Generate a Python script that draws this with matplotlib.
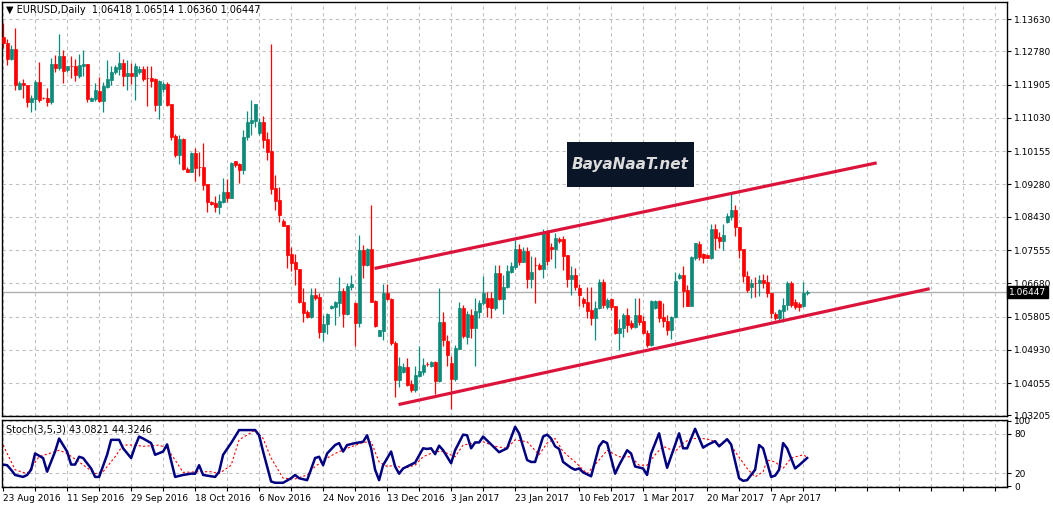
import matplotlib
matplotlib.use("Agg")
import matplotlib.pyplot as plt
from matplotlib.patches import Rectangle

opens = [1.1316,1.1300,1.1258,1.1284,1.1179,1.1195,1.1189,1.1145,1.1153,1.1197,1.1155,1.1155,1.1145,1.1245,1.1234,1.1266,1.1229,1.1239,1.1239,1.1213,
1.1239,1.1245,1.1147,1.1153,1.1174,1.1147,1.1184,1.1203,1.1224,1.1232,1.1247,1.1213,1.1221,1.1213,1.1224,1.1232,1.1208,1.1208,1.1205,1.1137,
1.1179,1.1192,1.1139,1.1055,1.1005,1.1047,1.0969,1.0961,1.1011,1.0974,1.0974,1.0929,1.0882,1.0879,1.0869,1.0882,1.0908,1.0892,1.0990,1.0982,
1.0966,1.1053,1.1090,1.1095,1.1063,1.1092,1.1047,1.1016,1.0919,1.0887,1.0832,1.0821,1.0745,1.0724,1.0706,1.0619,1.0592,1.0579,1.0637,1.0632,
1.0540,1.0561,1.0603,1.0606,1.0616,1.0648,1.0587,1.0658,1.0616,1.0564,1.0756,1.0716,1.0758,1.0621,1.0529,1.0543,1.0642,1.0627,1.0511,1.0414,
1.0435,1.0448,1.0403,1.0387,1.0424,1.0435,1.0456,1.0450,1.0461,1.0411,1.0566,1.0516,1.0458,1.0416,1.0495,1.0603,1.0527,1.0585,1.0550,1.0592,
1.0616,1.0629,1.0629,1.0603,1.0695,1.0627,1.0658,1.0698,1.0711,1.0758,1.0724,1.0753,1.0679,1.0716,1.0716,1.0706,1.0803,1.0763,1.0758,1.0784,
1.0784,1.0742,1.0679,1.0690,1.0656,1.0627,1.0619,1.0598,1.0577,1.0603,1.0671,1.0606,1.0627,1.0608,1.0537,1.0550,1.0585,1.0563,1.0553,1.0585,
1.0569,1.0537,1.0506,1.0603,1.0621,1.0579,1.0569,1.0545,1.0579,1.0682,1.0690,1.0650,1.0608,1.0734,1.0771,1.0745,1.0742,1.0734,1.0811,1.0790,
1.0779,1.0829,1.0842,1.0861,1.0816,1.0758,1.0687,1.0658,1.0669,1.0669,1.0677,1.0671,1.0642,1.0587,1.0577,1.0595,1.0611,1.0669,1.0619,1.0614,
1.0608,1.06418]
closes = [1.1300,1.1258,1.1284,1.1189,1.1195,1.1189,1.1145,1.1155,1.1197,1.1150,1.1155,1.1145,1.1245,1.1234,1.1266,1.1226,1.1239,1.1239,1.1216,1.1242,
1.1245,1.1153,1.1155,1.1176,1.1147,1.1187,1.1205,1.1224,1.1237,1.1247,1.1213,1.1221,1.1213,1.1239,1.1232,1.1205,1.1208,1.1200,1.1137,1.1200,
1.1192,1.1137,1.1053,1.1005,1.1047,1.0969,1.0961,1.1011,1.0971,1.0974,1.0926,1.0882,1.0876,1.0869,1.0884,1.0908,1.0892,1.0984,1.0979,1.0966,
1.1053,1.1092,1.1097,1.1139,1.1092,1.1045,1.1013,1.0916,1.0884,1.0848,1.0819,1.0742,1.0721,1.0706,1.0619,1.0590,1.0579,1.0637,1.0629,1.0540,
1.0561,1.0587,1.0608,1.0619,1.0648,1.0587,1.0661,1.0666,1.0564,1.0756,1.0716,1.0758,1.0619,1.0556,1.0545,1.0642,1.0627,1.0511,1.0414,1.0450,
1.0448,1.0400,1.0387,1.0427,1.0437,1.0453,1.0456,1.0461,1.0411,1.0566,1.0519,1.0479,1.0416,1.0498,1.0603,1.0529,1.0587,1.0550,1.0595,1.0616,
1.0642,1.0606,1.0603,1.0695,1.0627,1.0658,1.0700,1.0713,1.0758,1.0724,1.0753,1.0679,1.0698,1.0716,1.0706,1.0800,1.0727,1.0758,1.0787,1.0779,
1.0740,1.0679,1.0690,1.0658,1.0637,1.0616,1.0595,1.0577,1.0603,1.0671,1.0611,1.0624,1.0606,1.0537,1.0550,1.0585,1.0558,1.0553,1.0585,1.0566,
1.0537,1.0506,1.0621,1.0621,1.0577,1.0569,1.0545,1.0579,1.0674,1.0690,1.0648,1.0608,1.0737,1.0774,1.0737,1.0734,1.0734,1.0811,1.0787,1.0779,
1.0795,1.0845,1.0861,1.0816,1.0756,1.0687,1.0650,1.0669,1.0669,1.0677,1.0669,1.0642,1.0590,1.0577,1.0598,1.0611,1.0669,1.0611,1.0606,1.0606,
1.0642,1.06447]
highs = [1.1353,1.1310,1.1295,1.1339,1.1200,1.1205,1.1189,1.1163,1.1203,1.1250,1.1158,1.1182,1.1260,1.1268,1.1324,1.1281,1.1239,1.1266,1.1258,1.1271,
1.1281,1.1245,1.1158,1.1195,1.1210,1.1197,1.1255,1.1239,1.1242,1.1276,1.1258,1.1255,1.1247,1.1247,1.1239,1.1239,1.1239,1.1239,1.1208,1.1203,
1.1197,1.1197,1.1139,1.1061,1.1058,1.1050,1.0974,1.1013,1.1024,1.1013,1.1037,1.0929,1.0884,1.0898,1.0903,1.0945,1.0942,1.0987,1.0990,1.0984,
1.1071,1.1121,1.1150,1.1139,1.1103,1.1108,1.1066,1.1297,1.0953,1.0921,1.0837,1.0821,1.0763,1.0745,1.0706,1.0656,1.0598,1.0656,1.0656,1.0642,
1.0585,1.0590,1.0611,1.0621,1.0685,1.0656,1.0669,1.0690,1.0619,1.0795,1.0769,1.0761,1.0874,1.0624,1.0545,1.0666,1.0666,1.0629,1.0516,1.0474,
1.0458,1.0471,1.0413,1.0450,1.0503,1.0471,1.0461,1.0463,1.0463,1.0656,1.0592,1.0532,1.0477,1.0506,1.0619,1.0611,1.0595,1.0600,1.0629,1.0624,
1.0687,1.0645,1.0645,1.0716,1.0716,1.0690,1.0716,1.0724,1.0782,1.0771,1.0763,1.0763,1.0740,1.0737,1.0721,1.0811,1.0808,1.0774,1.0800,1.0790,
1.0792,1.0742,1.0713,1.0708,1.0666,1.0632,1.0658,1.0658,1.0621,1.0679,1.0679,1.0629,1.0629,1.0608,1.0574,1.0590,1.0603,1.0571,1.0629,1.0629,
1.0582,1.0545,1.0624,1.0624,1.0624,1.0616,1.0585,1.0582,1.0698,1.0695,1.0713,1.0663,1.0740,1.0774,1.0779,1.0748,1.0745,1.0824,1.0824,1.0803,
1.0824,1.0853,1.0905,1.0874,1.0816,1.0758,1.0700,1.0679,1.0685,1.0690,1.0692,1.0690,1.0642,1.0592,1.0600,1.0629,1.0674,1.0674,1.0627,1.0619,
1.0671,1.06514]
lows = [1.1287,1.1242,1.1255,1.1176,1.1176,1.1155,1.1132,1.1118,1.1124,1.1145,1.1153,1.1134,1.1139,1.1224,1.1229,1.1195,1.1224,1.1208,1.1200,1.1208,
1.1213,1.1145,1.1147,1.1147,1.1145,1.1118,1.1182,1.1189,1.1218,1.1216,1.1187,1.1176,1.1192,1.1150,1.1218,1.1200,1.1134,1.1184,1.1121,1.1100,
1.1171,1.1134,1.1045,1.1000,1.0982,1.0966,1.0961,1.0961,1.0937,1.0950,1.0913,1.0855,1.0874,1.0855,1.0850,1.0879,1.0882,1.0892,1.0974,1.0932,
1.0955,1.1045,1.1058,1.1079,1.1058,1.1024,1.0992,1.0903,1.0861,1.0829,1.0819,1.0708,1.0700,1.0663,1.0616,1.0566,1.0577,1.0577,1.0624,1.0524,
1.0516,1.0535,1.0600,1.0558,1.0582,1.0553,1.0585,1.0650,1.0503,1.0553,1.0682,1.0713,1.0619,1.0553,1.0529,1.0519,1.0624,1.0506,1.0369,1.0395,
1.0432,1.0398,1.0382,1.0382,1.0421,1.0427,1.0450,1.0448,1.0377,1.0408,1.0503,1.0450,1.0337,1.0411,1.0495,1.0524,1.0508,1.0524,1.0450,1.0577,
1.0611,1.0579,1.0577,1.0598,1.0624,1.0587,1.0656,1.0695,1.0706,1.0716,1.0724,1.0656,1.0656,1.0616,1.0703,1.0682,1.0716,1.0732,1.0708,1.0774,
1.0703,1.0658,1.0637,1.0650,1.0608,1.0606,1.0577,1.0558,1.0519,1.0600,1.0603,1.0600,1.0598,1.0535,1.0492,1.0527,1.0540,1.0548,1.0550,1.0558,
1.0535,1.0500,1.0503,1.0600,1.0566,1.0553,1.0532,1.0521,1.0577,1.0679,1.0606,1.0608,1.0608,1.0729,1.0729,1.0721,1.0734,1.0732,1.0756,1.0761,
1.0756,1.0826,1.0834,1.0792,1.0734,1.0671,1.0645,1.0629,1.0632,1.0635,1.0656,1.0632,1.0577,1.0571,1.0569,1.0566,1.0598,1.0606,1.0600,1.0595,
1.0606,1.06360]

k_idx = [0,1,2,3,5,6,7,8,10,11,13,14,16,17,18,19,20,22,23,24,26,27,29,30,32,33,34,35,37,38,40,41,43,45,47,48,49,50,53,54,55,57,59,61,63,64,65,67,68,70,
72,73,74,76,78,79,80,81,83,84,85,86,88,89,90,91,92,93,94,95,97,98,99,100,102,103,105,106,107,108,109,110,112,113,115,116,117,118,119,120,122,124,126,128,129,
131,132,133,135,136,137,138,139,140,142,143,144,145,147,149,150,151,153,154,156,157,158,160,161,162,164,165,166,169,170,171,173,175,176,178,179,181,182,184,185,186,188,189,190,192,193,194,195,196,198,199,201]
k_val = [33,32,25,17,14,17,25,50,43,22,53,73,53,33,33,45,43,27,14,14,48,71,71,58,43,61,76,73,66,48,53,64,14,17,19,19,32,17,14,22,48,66,86,86,86,78,53,7,5,5,
12,17,12,9,43,45,32,50,63,66,53,63,66,67,68,78,58,25,9,32,53,30,19,27,33,36,58,57,58,49,62,55,35,55,79,78,58,67,67,76,64,52,58,91,81,
40,37,37,76,79,73,61,57,37,28,25,27,21,15,61,69,66,19,32,55,50,30,27,17,50,81,53,28,81,58,58,88,59,63,69,61,72,64,12,8,9,25,63,58,14,16,25,66,58,27,32,43.08]
d_idx = [0,3,6,9,14,16,19,23,25,28,30,33,35,39,41,43,45,49,52,54,57,59,63,65,67,70,73,76,78,81,83,86,90,92,94,96,98,100,103,105,108,110,113,115,118,120,123,126,128,
131,134,136,138,140,143,146,149,151,154,157,159,161,163,165,168,170,172,175,177,179,181,183,186,188,190,191,193,195,197,200,201]
d_val = [63,25,19,45,55,50,37,19,22,45,63,63,61,63,58,40,21,22,22,19,32,71,86,73,43,12,11,17,30,43,50,58,67,68,37,30,32,27,32,45,53,53,45,63,66,68,61,58,71,
68,48,66,73,53,37,19,40,55,45,45,32,32,48,61,53,66,73,73,71,63,72,53,27,14,22,40,37,27,43,48,44.32]

upper_chan_idx = [93.25, 218]
upper_chan_val = [1.0708, 1.0984]
lower_chan_idx = [99.25, 231.25]
lower_chan_val = [1.0350, 1.0653]

price_ticks = [1.13630,1.12780,1.11905,1.11030,1.10155,1.09280,1.08430,1.07555,1.06680,1.05805,1.04930,1.04055,1.03205]
date_labels = ["23 Aug 2016","11 Sep 2016","29 Sep 2016","18 Oct 2016","6 Nov 2016","24 Nov 2016","13 Dec 2016",
               "3 Jan 2017","23 Jan 2017","10 Feb 2017","1 Mar 2017","20 Mar 2017","7 Apr 2017"]
last_price = 1.06447

UP = "#0e8a7a"; DN = "#ff0000"; GRID = "#c0c0c0"
plt.rcParams['font.family'] = ['DejaVu Sans']
fig = plt.figure(figsize=(10.53, 5.07), dpi=100)
ax = fig.add_axes([0.002, 1-416/507, 1005/1053, 414/507])
ax2 = fig.add_axes([0.002, 1-487/507, 1005/1053, 67/507])

for a in (ax, ax2):
    a.set_xlim(-0.25, 251)
    a.set_xticks(range(0, 251, 8))
    a.grid(True, color=GRID, linestyle=(0, (3, 3)), linewidth=0.8)
    a.set_axisbelow(True)
    a.yaxis.tick_right()
    a.tick_params(axis='both', labelsize=6.5, length=3, width=0.8, pad=2, colors='black')
    for s in a.spines.values():
        s.set_linewidth(1.0)
ax.tick_params(axis='x', labelbottom=False, length=0)
ax.set_ylim(1.0319, 1.1408)
ax.set_yticks(price_ticks)
ax.set_yticklabels([f"{t:.5f}" for t in price_ticks])

for i, (o, c, h, l) in enumerate(zip(opens, closes, highs, lows)):
    col = UP if c > o else DN
    ax.plot([i, i], [l, h], color=col, lw=0.9, solid_capstyle='butt', zorder=2)
    bot = min(o, c); ht = max(abs(c - o), 0.00008)
    ax.add_patch(Rectangle((i - 0.38, bot), 0.76, ht, facecolor=col, edgecolor=col, lw=0.5, zorder=3))

ax.plot(upper_chan_idx, upper_chan_val, color="#dc143c", lw=2.3, zorder=4)
ax.plot(lower_chan_idx, lower_chan_val, color="#dc143c", lw=2.3, zorder=4)
ax.axhline(last_price, color="#b0b0b0", lw=1, zorder=1)
ax.text(1.002, last_price, f"{last_price:.5f}", transform=ax.get_yaxis_transform(), fontsize=6.5,
        color='white', va='center', ha='left', bbox=dict(facecolor='black', edgecolor='black', pad=1.2))
ax.text(0.004, 0.992, "▼ EURUSD,Daily  1.06418 1.06514 1.06360 1.06447", transform=ax.transAxes,
        fontsize=7, va='top', ha='left')
ax.add_patch(Rectangle((0.562, 0.553), 0.126, 0.109, transform=ax.transAxes, facecolor='#0a1628',
                       edgecolor='none', zorder=5))
ax.text(0.625, 0.607, "BayaNaaT.net", transform=ax.transAxes, fontsize=11, fontstyle='italic',
        fontweight='bold', color='#dcdcdc', ha='center', va='center', zorder=6)

ax2.plot(d_idx, d_val, color='red', lw=0.8, linestyle=(0, (2, 2)))
ax2.plot(k_idx, k_val, color='#000080', lw=1.8)
ax2.set_ylim(-1.5, 101.5)
ax2.set_yticks([0, 20, 80, 100])
ax2.set_yticklabels(["0", "20", "80", "100"])
ax2.set_xticks(range(0, 251, 8))
ax2.set_xticklabels([date_labels[j // 16] if (j % 16 == 0 and j // 16 < len(date_labels)) else "" for j in range(0, 251, 8)],
                    ha='left')
ax2.text(0.004, 0.93, "Stoch(3,5,3) 43.0821 44.3246", transform=ax2.transAxes, fontsize=7, va='top', ha='left')

fig.savefig("out.png", dpi=100)
